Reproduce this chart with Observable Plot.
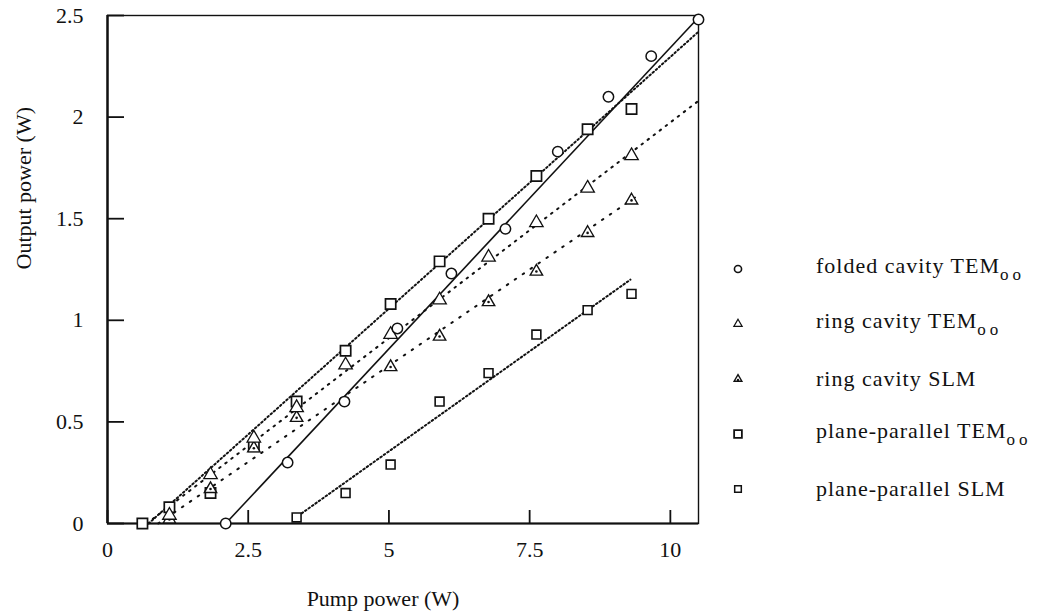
<!DOCTYPE html>
<html>
<head>
<meta charset="utf-8">
<script src="https://cdn.jsdelivr.net/npm/d3@7"></script>
<script src="https://cdn.jsdelivr.net/npm/@observablehq/plot@0.6"></script>
<style>
  body { margin: 0; background: #fff; }
  #wrap { position: relative; width: 1044px; height: 615px; font-family: "Liberation Serif", "Times New Roman", serif; color: #111; }
  #legend { position: absolute; left: 724px; top: 241px; font-size: 22px; letter-spacing: 1px; }
  #legend .row { display: flex; align-items: center; height: 55px; }
  #legend svg { width: 28px; height: 20px; margin-right: 64px; overflow: visible; }
  #legend sub { font-size: 17px; letter-spacing: 4px; vertical-align: -7px; }
</style>
</head>
<body>
<div id="wrap"><div id="legend"></div></div>
<script>
// Output power versus pump power for five laser cavity configurations

const foldedX = [2.1, 3.2, 4.21, 5.15, 6.11, 7.07, 8.0, 8.9, 9.66, 10.5];
const foldedY = [0, 0.30, 0.60, 0.96, 1.23, 1.45, 1.83, 2.10, 2.30, 2.48];

const ringTemX = [1.1, 1.83, 2.6, 3.36, 4.23, 5.03, 5.9, 6.77, 7.62, 8.53, 9.31];
const ringTemY = [0.04, 0.24, 0.42, 0.57, 0.78, 0.93, 1.10, 1.31, 1.48, 1.65, 1.81];

const ringSlmX = [1.1, 1.83, 2.6, 3.36, 5.03, 5.9, 6.77, 7.62, 8.53, 9.31];
const ringSlmY = [0.02, 0.17, 0.37, 0.52, 0.77, 0.92, 1.09, 1.24, 1.43, 1.59];

const planeTemX = [0.62, 1.1, 1.83, 2.6, 3.36, 4.23, 5.03, 5.9, 6.77, 7.62, 8.53, 9.31];
const planeTemY = [0, 0.08, 0.15, 0.38, 0.60, 0.85, 1.08, 1.29, 1.50, 1.71, 1.94, 2.04];

const planeSlmX = [3.36, 4.23, 5.03, 5.9, 6.77, 7.62, 8.53, 9.31];
const planeSlmY = [0.03, 0.15, 0.29, 0.60, 0.74, 0.93, 1.05, 1.13];

// Straight-line fits: start and end point of each fitted line
const fitNames = ["folded", "ringTem", "ringSlm", "planeTem", "planeSlm"];
const fitX1 = [2.1, 0.7, 0.9, 0.73, 3.45];
const fitY1 = [0, 0, 0, 0, 0.05];
const fitX2 = [10.5, 10.5, 9.4, 10.5, 9.29];
const fitY2 = [2.49, 2.08, 1.61, 2.42, 1.20];

const xTicks = [0, 2.5, 5, 7.5, 10];
const yTicks = [0, 0.5, 1, 1.5, 2, 2.5];
const xTitle = "Pump power (W)";
const yTitle = "Output power (W)";

const legendNames = ["folded cavity TEM", "ring cavity TEM", "ring cavity SLM", "plane-parallel TEM", "plane-parallel SLM"];
const legendSub = ["oo", "oo", "", "oo", ""];

const pts = (xs, ys) => xs.map((x, i) => ({x, y: ys[i]}));
const fits = fitNames.map((name, i) => ({name, x1: fitX1[i], y1: fitY1[i], x2: fitX2[i], y2: fitY2[i]}));
const fit = name => fits.filter(d => d.name === name);

const dash = {folded: null, ringTem: "1.6,6", ringSlm: "1.6,8", planeTem: "1.6,2.6", planeSlm: "1.6,2.6"};
const fitLink = name => Plot.link(fit(name), {
  x1: "x1", y1: "y1", x2: "x2", y2: "y2",
  stroke: "#111", strokeWidth: name === "folded" ? 1.6 : 2,
  strokeDasharray: dash[name], strokeLinecap: name === "folded" ? "butt" : "round"
});

const serif = "'Liberation Serif', 'Times New Roman', serif";

const chart = Plot.plot({
  width: 1044,
  height: 615,
  marginLeft: 107,
  marginRight: 346,
  marginTop: 15,
  marginBottom: 92,
  style: {fontFamily: serif, color: "#111", background: "#fff"},
  x: {domain: [0, 10.5]},
  y: {domain: [0, 2.5]},
  marks: [
    Plot.frame({stroke: "#111", strokeWidth: 1.4}),
    Plot.ruleX([0], {stroke: "#111", strokeWidth: 2.4}),
    Plot.ruleY([0], {stroke: "#111", strokeWidth: 2}),
    Plot.axisX(xTicks, {
      tickSize: -13, tickPadding: 31, fontSize: 22, strokeWidth: 1.8,
      tickFormat: d => String(d), label: null
    }),
    Plot.axisY(yTicks, {
      tickSize: -17, tickPadding: 41, fontSize: 22, strokeWidth: 1.8,
      tickFormat: d => String(d), label: null
    }),
    Plot.text([xTitle], {frameAnchor: "bottom", dx: -20, dy: 82, fontSize: 22, letterSpacing: 1.5, fill: "#111"}),
    Plot.text([yTitle], {frameAnchor: "left", dx: -84, rotate: -90, fontSize: 22, letterSpacing: 1.2, fill: "#111"}),
    ...fitNames.map(fitLink),
    Plot.dot(pts(planeSlmX, planeSlmY), {x: "x", y: "y", symbol: "square", r: 5, stroke: "#111", strokeWidth: 1.6, fill: "white"}),
    Plot.dot(pts(planeTemX, planeTemY), {x: "x", y: "y", symbol: "square", r: 5.8, stroke: "#111", strokeWidth: 1.7, fill: "white"}),
    Plot.dot(pts(ringSlmX, ringSlmY), {x: "x", y: "y", symbol: "triangle", r: 4.6, stroke: "#111", strokeWidth: 1.4, fill: "white"}),
    Plot.dot(pts(ringSlmX, ringSlmY), {x: "x", y: "y", r: 1.3, fill: "#111"}),
    Plot.dot(pts(ringTemX, ringTemY), {x: "x", y: "y", symbol: "triangle", r: 5, stroke: "#111", strokeWidth: 1.3, fill: "white"}),
    Plot.dot(pts(foldedX, foldedY), {x: "x", y: "y", symbol: "circle", r: 5.2, stroke: "#111", strokeWidth: 1.5, fill: "white"})
  ]
});
document.getElementById("wrap").prepend(chart);

// Legend rows: marker symbol and series name
const legendSymbols = [
  {type: d3.symbolCircle, size: 40, fill: "white", sw: 1.6, dot: false},
  {type: d3.symbolTriangle, size: 30, fill: "white", sw: 1.2, dot: false},
  {type: d3.symbolTriangle, size: 26, fill: "white", sw: 1.4, dot: true},
  {type: d3.symbolSquare, size: 60, fill: "white", sw: 1.8, dot: false},
  {type: d3.symbolSquare, size: 44, fill: "white", sw: 1.5, dot: false}
];
const legend = d3.select("#legend");
legendNames.forEach((name, i) => {
  const row = legend.append("div").attr("class", "row");
  const svg = row.append("svg");
  const s = legendSymbols[i];
  svg.append("path")
    .attr("transform", "translate(14,10)")
    .attr("d", d3.symbol(s.type, s.size)())
    .attr("fill", s.fill).attr("stroke", "#111").attr("stroke-width", s.sw);
  if (s.dot) svg.append("circle").attr("cx", 14).attr("cy", 11).attr("r", 1.2).attr("fill", "#111");
  const label = row.append("span").text(name);
  if (legendSub[i]) label.append("sub").text(legendSub[i]);
});
</script>
</body>
</html>
